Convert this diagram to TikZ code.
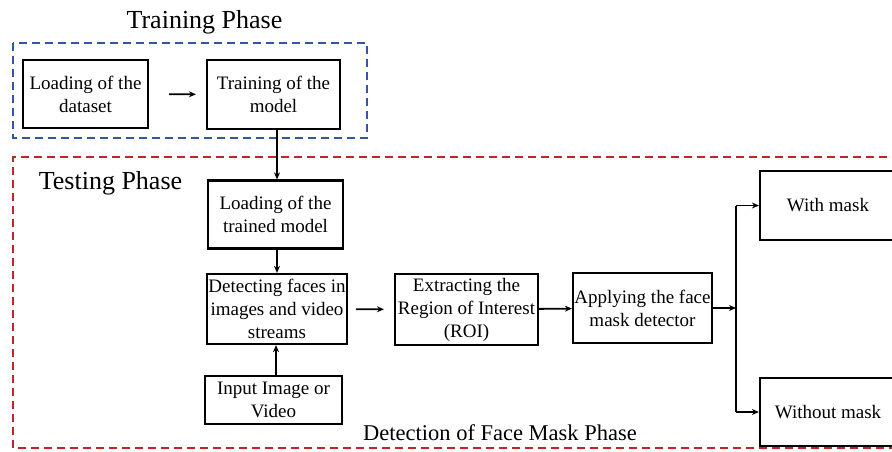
\documentclass[tikz,border=0pt]{standalone}
\usepackage{fontspec}
\setmainfont{Liberation Serif}
\usetikzlibrary{arrows.meta}
\definecolor{trainblue}{RGB}{52,86,166}
\definecolor{testred}{RGB}{196,36,40}
\tikzset{
  stepbox/.style={draw=black, line width=2.2pt, align=center, inner sep=0pt,
    font=\fontsize{19}{23}\selectfont},
  flow/.style={line width=1.8pt, -{Stealth[length=7pt,width=6pt]}},
  plain/.style={line width=1.8pt},
  phase/.style={line width=1.8pt, dash pattern=on 8pt off 5pt},
  title/.style={font=\fontsize{26}{30}\selectfont, inner sep=0pt},
}
\begin{document}
\begin{tikzpicture}[x=1pt,y=-1pt]
\useasboundingbox (0,0) rectangle (892,451);
\clip (0,0) rectangle (892,451);
\fill[white] (0,0) rectangle (892,451);

% phase frames
\draw[phase, trainblue] (13,43) rectangle (367,138);
\draw[phase, testred] (900,157) -- (13,157) -- (13,448) -- (900,448);

% titles
\node[title] (ttrain) at (204.5,22) {Training Phase};
\node[title] (ttest) at (110.5,183) {Testing Phase};
\node[font=\fontsize{22.5}{26}\selectfont, inner sep=0pt] (tdetect) at (500,433) {Detection of Face Mask Phase};

% training steps
\node[stepbox, minimum width=125pt, minimum height=68pt] (load) at (85.5,94) {Loading of the\\dataset};
\node[stepbox, minimum width=133pt, minimum height=69pt] (train) at (273.5,94.5) {Training of the\\model};

% testing steps
\node[stepbox, minimum width=135pt, minimum height=68pt] (loadm) at (275.5,214.5) {Loading of the\\trained model};
\node[stepbox, minimum width=140pt, minimum height=70pt] (detect) at (277,309) {Detecting faces in\\images and video\\streams};
\node[stepbox, minimum width=137pt, minimum height=48pt] (input) at (273.5,400) {Input Image or\\Video};
\node[stepbox, minimum width=143pt, minimum height=71pt] (roi) at (466.5,309.5) {Extracting the\\Region of Interest\\(ROI)};
\node[stepbox, minimum width=139pt, minimum height=70pt] (apply) at (642.5,308) {Applying the face\\mask detector};
\node[stepbox, minimum width=136pt, minimum height=69pt] (with) at (828,205.5) {With mask};
\node[stepbox, minimum width=136pt, minimum height=68pt] (without) at (828,412) {Without mask};

% vertical trunk of the testing column
\coordinate (col) at (277,0);
\coordinate (colin) at (276,0);

% branch points
\coordinate (j) at (736,308);
\coordinate (jt) at (736,205.5);
\coordinate (jb) at (736,412);

% connectors
\draw[flow, shorten <=20pt, shorten >=10pt] (load) -- (train);
\draw[flow] (train.south -| col) -- (loadm.north -| col);
\draw[flow] (loadm.south -| col) -- (detect.north -| col);
\draw[flow] (input.north -| colin) -- (detect.south -| colin);
\draw[flow, shorten <=8pt, shorten >=10pt] (detect) -- (roi);
\draw[flow] (roi) -- (apply);
\draw[flow] (apply.east) -- (j);
\draw[plain] (jt) -- (jb);
\draw[flow] (jt) -- (with.west);
\draw[flow] (jb) -- (without.west);
\end{tikzpicture}
\end{document}
